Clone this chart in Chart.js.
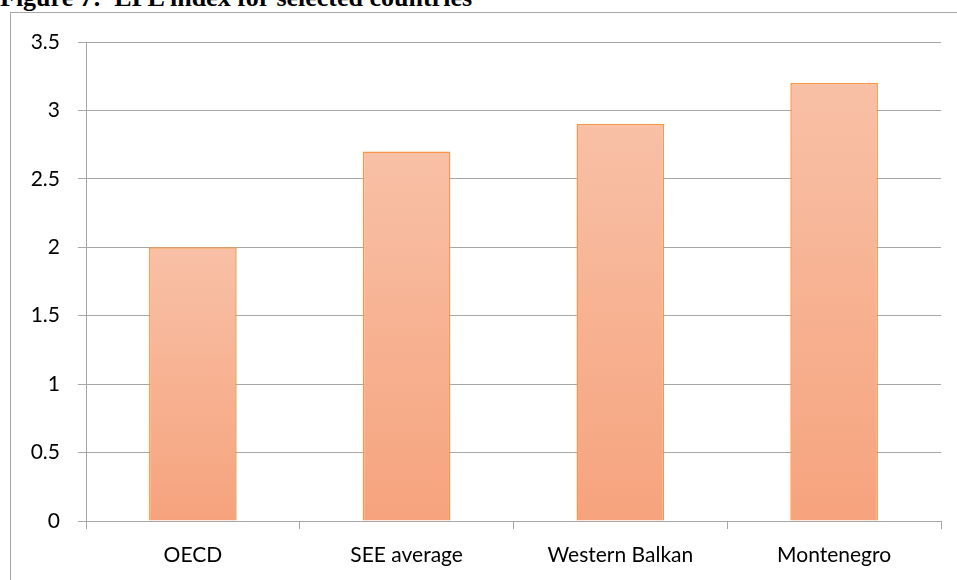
<!DOCTYPE html>
<html>
<head>
<meta charset="utf-8">
<script src="https://cdn.jsdelivr.net/npm/chart.js@4/dist/chart.umd.min.js"></script>
<style>
  html, body { margin: 0; padding: 0; background: #fff; overflow: hidden; }
  #wrap { position: relative; width: 957px; height: 580px; }
  #title { position: absolute; left: 0; top: -15px; font: bold 26px "Liberation Serif", "Times New Roman", serif; color: #000; white-space: nowrap; line-height: 26px; }
  #frame { position: absolute; left: 10px; top: 12px; width: 1000px; height: 700px; border-left: 1px solid #a6a6a6; border-top: 1px solid #a6a6a6; }
  #c { position: absolute; left: 0; top: 0; }
</style>
</head>
<body>
<div id="wrap">
  <div id="title">Figure 7:&nbsp; EPL index for selected countries</div>
  <div id="frame"></div>
  <canvas id="c" width="957" height="580"></canvas>
</div>
<script>
const categories = ["OECD", "SEE average", "Western Balkan", "Montenegro"];
const eplIndex = [2.0, 2.7, 2.9, 3.2];
const yTicks = [0, 0.5, 1, 1.5, 2, 2.5, 3, 3.5];
const yTickLabels = ["0", "0.5", "1", "1.5", "2", "2.5", "3", "3.5"];

const topColor = "#F8C0A6";
const bottomColor = "#F6A37D";

function barGradient(context) {
  const chart = context.chart;
  const ys = chart.scales && chart.scales.y;
  if (!ys || context.dataIndex === undefined) return topColor;
  const v = context.dataset.data[context.dataIndex];
  const yTop = ys.getPixelForValue(v);
  const yBot = ys.getPixelForValue(0);
  if (!isFinite(yTop) || !isFinite(yBot) || yTop === yBot) return topColor;
  const g = chart.ctx.createLinearGradient(0, yTop, 0, yBot);
  g.addColorStop(0, topColor);
  g.addColorStop(1, bottomColor);
  return g;
}

const fontFamily = "Lato, 'Open Sans', sans-serif";

new Chart(document.getElementById("c"), {
  type: "bar",
  data: {
    labels: categories,
    datasets: [{
      data: eplIndex,
      backgroundColor: barGradient,
      borderColor: "#F79646",
      borderWidth: 1.5,
      barPercentage: 0.41,
      categoryPercentage: 1.0
    }]
  },
  options: {
    responsive: false,
    animation: false,
    layout: { padding: { top: 42, right: 16, left: 0, bottom: 0 } },
    plugins: { legend: { display: false }, tooltip: { enabled: false }, title: { display: false } },
    scales: {
      x: {
        grid: { display: true, drawOnChartArea: false, drawTicks: true, tickLength: 8, color: "#a6a6a6", offset: true },
        border: { display: true, color: "#a6a6a6", width: 1 },
        ticks: { color: "#000", font: { family: fontFamily, size: 21 }, padding: 14, maxRotation: 0 },
        afterFit: (s) => { s.height = 59; }
      },
      y: {
        min: 0, max: 3.5,
        afterBuildTicks: (s) => { s.ticks = yTicks.map(v => ({ value: v })); },
        grid: { color: "#a6a6a6", lineWidth: 1, drawTicks: true, tickLength: 8 },
        border: { display: true, color: "#a6a6a6", width: 1 },
        ticks: {
          color: "#000", font: { family: fontFamily, size: 21 }, padding: 18,
          callback: (value) => { const i = yTicks.indexOf(value); return i >= 0 ? yTickLabels[i] : String(value); }
        },
        afterFit: (s) => { s.width = 86; }
      }
    }
  }
});
</script>
</body>
</html>
